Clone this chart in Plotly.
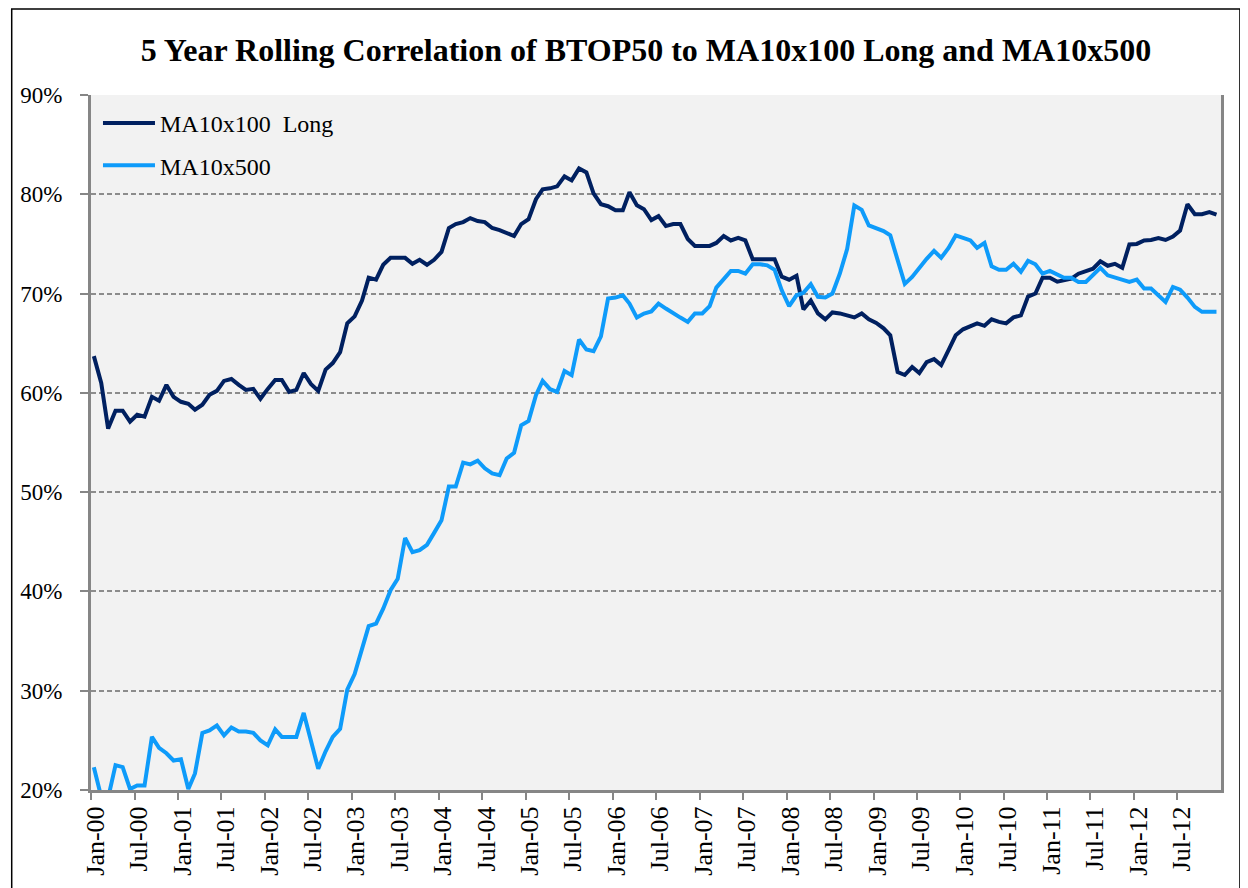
import plotly.graph_objects as go
import pandas as pd

# ---- data (monthly, Jan-2000 .. Dec-2012), values in percent ----
months = pd.date_range("2000-01-01", periods=156, freq="MS")

ma10x100_long = [
    63.7, 61.0, 56.4, 58.2, 58.2, 57.1, 57.8, 57.6, 59.6, 59.2,
    60.8, 59.6, 59.1, 58.9, 58.3, 58.8, 59.8, 60.2, 61.2, 61.4,
    60.8, 60.3, 60.4, 59.4, 60.4, 61.3, 61.3, 60.1, 60.3, 62.0,
    60.9, 60.2, 62.35, 63.0, 64.1, 67.0, 67.7, 69.3, 71.6, 71.4,
    72.9, 73.6, 73.6, 73.6, 73.0, 73.4, 72.9, 73.4, 74.2, 76.6,
    77.0, 77.2, 77.6, 77.3, 77.2, 76.6, 76.4, 76.1, 75.8, 77.0,
    77.5, 79.5, 80.5, 80.6, 80.8, 81.8, 81.4, 82.6, 82.2, 80.1,
    79.0, 78.8, 78.4, 78.4, 80.2, 78.9, 78.5, 77.4, 77.8, 76.8,
    77.0, 77.0, 75.5, 74.8, 74.8, 74.8, 75.1, 75.8, 75.35, 75.6,
    75.35, 73.45, 73.45, 73.45, 73.45, 71.7, 71.4, 71.8, 68.4, 69.3,
    68.0, 67.4, 68.1, 68.0, 67.8, 67.6, 68.0, 67.4, 67.05, 66.5,
    65.8, 62.1, 61.8, 62.6, 62.0, 63.1, 63.4, 62.8, 64.3, 65.8,
    66.4, 66.75, 67.0, 66.75, 67.4, 67.15, 67.0, 67.6, 67.8, 69.7,
    70.0, 71.6, 71.6, 71.2, 71.3, 71.5, 72.0, 72.3, 72.5, 73.25,
    72.8, 73.0, 72.6, 74.95, 75.0, 75.35, 75.4, 75.6, 75.4, 75.75,
    76.35, 79.0, 78.0, 78.0, 78.2, 77.95,
]

ma10x500 = [
    22.3, 19.3, 19.2, 22.5, 22.3, 20.1, 20.45, 20.45, 25.35, 24.25,
    23.7, 22.97, 23.1, 20.1, 21.67, 25.75, 26.0, 26.5, 25.5, 26.3,
    25.9, 25.9, 25.75, 25.0, 24.5, 26.1, 25.35, 25.35, 25.35, 27.76,
    24.9, 22.13, 23.9, 25.35, 26.15, 30.1, 31.67, 34.2, 36.5, 36.75,
    38.26, 40.13, 41.27, 45.38, 43.95, 44.15, 44.7, 45.9, 47.16, 50.57,
    50.57, 52.98, 52.8, 53.17, 52.4, 51.88, 51.71, 53.39, 53.96, 56.74,
    57.18, 59.77, 61.21, 60.37, 60.1, 62.21, 61.78, 65.37, 64.36, 64.19,
    65.7, 69.5, 69.6, 69.83, 69.0, 67.58, 67.99, 68.2, 68.99, 68.49,
    67.99, 67.58, 67.15, 67.99, 67.99, 68.73, 70.6, 71.5, 72.28, 72.28,
    72.0, 72.95, 72.95, 72.84, 72.4, 70.33, 68.73, 69.83, 70.07, 70.94,
    69.67, 69.6, 70.0, 72.0, 74.5, 78.87, 78.43, 76.86, 76.63, 76.3,
    75.86, 73.41, 70.97, 71.67, 72.6, 73.5, 74.3, 73.6, 74.6, 75.86,
    75.6, 75.35, 74.6, 75.1, 72.74, 72.4, 72.4, 73.0, 72.2, 73.3,
    72.95, 72.0, 72.28, 71.94, 71.6, 71.6, 71.17, 71.17, 71.84, 72.6,
    71.84, 71.6, 71.4, 71.17, 71.4, 70.5, 70.5, 69.83, 69.16, 70.67,
    70.4, 69.6, 68.66, 68.16, 68.16, 68.16,
]

tick_labels = [
    "Jan-00", "Jul-00", "Jan-01", "Jul-01", "Jan-02", "Jul-02", "Jan-03",
    "Jul-03", "Jan-04", "Jul-04", "Jan-05", "Jul-05", "Jan-06", "Jul-06",
    "Jan-07", "Jul-07", "Jan-08", "Jul-08", "Jan-09", "Jul-09", "Jan-10",
    "Jul-10", "Jan-11", "Jul-11", "Jan-12", "Jul-12",
]
tick_dates = [months[k] - pd.Timedelta(days=11) for k in range(0, 156, 6)]

title_text = "5 Year Rolling Correlation of BTOP50 to MA10x100 Long and MA10x500"
series_names = ["MA10x100\u00a0 Long", "MA10x500"]
colors = ["#002060", "#0E9BFA"]

SERIF = "Liberation Serif, Times New Roman, serif"

fig = go.Figure()
for name, vals, col in zip(series_names, [ma10x100_long, ma10x500], colors):
    fig.add_trace(go.Scatter(
        x=months, y=vals, mode="lines", name=name, legendgroup=name,
        line=dict(color=col, width=4),
    ))

# the page adds an 8px body margin; work in figure pixels = screen - 8
OFF = 8
W, H = 1248 - OFF, 888 - OFF
L, R, T, B = 88 - OFF, 1221 - OFF, 95 - OFF, 791 - OFF


def px_x(p):
    return (p - OFF - L) / (R - L)


def px_y(p):
    return (B - (p - OFF)) / (B - T)


fig.update_layout(
    width=W, height=H, autosize=False,
    margin=dict(l=L, r=W - R, t=T, b=H - B, pad=0),
    paper_bgcolor="white", plot_bgcolor="#f2f2f2",
    font=dict(family=SERIF, color="black"),
    title=dict(
        text=title_text, x=(646 - OFF) / W, xref="container", xanchor="center",
        y=1 - (50 - OFF) / H, yref="container", yanchor="middle",
        font=dict(family=SERIF, size=32, color="black", weight="bold"),
    ),
    showlegend=True,
    legend=dict(
        x=px_x(95), y=px_y(101), xanchor="left", yanchor="top",
        bgcolor="rgba(0,0,0,0)", font=dict(family=SERIF, size=24, color="black"),
        tracegroupgap=8, itemwidth=52,
    ),
    xaxis=dict(
        type="date",
        range=[months[0] - pd.Timedelta(days=12), months[-1] + pd.Timedelta(days=19)],
        tickmode="array", tickvals=tick_dates, ticktext=tick_labels,
        tickangle=-90, ticklabelshift=4, ticklabelstandoff=-4,
        tickfont=dict(family=SERIF, size=26, color="black"),
        showline=True, linecolor="#868686", linewidth=3,
        ticks="outside", ticklen=7, tickcolor="#868686", tickwidth=2,
        showgrid=False, zeroline=False,
    ),
    yaxis=dict(
        range=[20, 90], tick0=0, dtick=10, ticksuffix="%",
        tickfont=dict(family=SERIF, size=23, color="black"),
        showline=True, mirror=True, linecolor="#868686", linewidth=3,
        ticks="outside", ticklen=8, tickcolor="#868686", tickwidth=2,
        ticklabelstandoff=13,
        showgrid=True, gridcolor="#8c8c8c", gridwidth=1.5, griddash="5px,3px",
        zeroline=False,
    ),
    shapes=[dict(
        type="rect", xref="paper", yref="paper", layer="above",
        x0=px_x(8.5), x1=px_x(1240), y0=px_y(905), y1=px_y(9),
        line=dict(color="black", width=1.5), fillcolor="rgba(0,0,0,0)",
    )],
)

fig.write_html("out.html")
